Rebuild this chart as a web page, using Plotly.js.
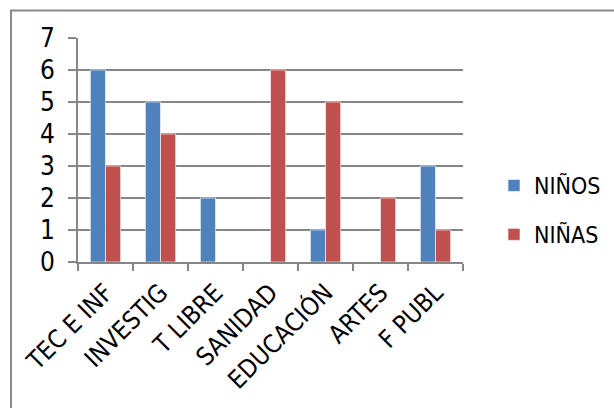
<!DOCTYPE html>
<html>
<head>
<meta charset="utf-8">
<script src="https://cdn.plot.ly/plotly-3.0.1.min.js"></script>
<style>
html,body{margin:0;padding:0;background:#fff;}
#chart{width:614px;height:408px;}
</style>
</head>
<body>
<div id="chart"></div>
<script>
const categories = ["TEC E INF", "INVESTIG", "T LIBRE", "SANIDAD", "EDUCACIÓN", "ARTES", "F PUBL"];
const ninos = [6, 5, 2, 0, 1, 0, 3];
const ninas = [3, 4, 0, 6, 5, 2, 1];
const seriesNames = ["NIÑOS", "NIÑAS"];
const yTicks = [0, 1, 2, 3, 4, 5, 6, 7];

const FONT = "Liberation Sans Narrow, Arial Narrow, DejaVu Sans Condensed, sans-serif";
const GRID = "#868686";

const traces = [
  {type: "bar", name: seriesNames[0], x: categories, y: ninos, legendgroup: "a",
   marker: {color: "#4F81BD", line: {color: "#ffffff", width: 0.6}}},
  {type: "bar", name: seriesNames[1], x: categories, y: ninas, legendgroup: "b",
   marker: {color: "#C0504D", line: {color: "#ffffff", width: 0.6}}}
];

const W = 536; // paper width in px
const layout = {
  width: 614, height: 408,
  margin: {l: 78, r: 0, t: 38, b: 146},
  paper_bgcolor: "#ffffff", plot_bgcolor: "#ffffff",
  font: {family: FONT, size: 25, color: "#000000"},
  barmode: "group", bargap: 0.45, bargroupgap: 0,
  showlegend: true,
  legend: {x: (494 - 78) / W, y: (262 - 210) / 224, xanchor: "left", yanchor: "middle",
           font: {family: FONT, size: 23, color: "#000"},
           traceorder: "grouped", tracegroupgap: 16, bgcolor: "rgba(0,0,0,0)"},
  xaxis: {type: "category", domain: [0, (463 - 78) / W], showgrid: false, zeroline: false,
          showline: true, linecolor: GRID, linewidth: 2,
          ticks: "outside", tickson: "boundaries", ticklen: 7, tickcolor: GRID, tickwidth: 2,
          ticklabelstandoff: 4,
          tickangle: -45, tickfont: {family: FONT, size: 25, color: "#000"}},
  yaxis: {range: [0, 7], tickvals: yTicks, showgrid: true, gridcolor: GRID, gridwidth: 2,
          zeroline: false, showline: true, linecolor: GRID, linewidth: 2,
          ticks: "outside", ticklen: 8, tickcolor: GRID, tickwidth: 2,
          ticklabelstandoff: 8,
          tickfont: {family: FONT, size: 26, color: "#000"}},
  shapes: [{type: "rect", xref: "paper", yref: "paper",
            x0: (11 - 78) / W, x1: (640 - 78) / W,
            y0: (262 - 430) / 224, y1: (262 - 10.5) / 224,
            line: {color: "#8a8a8a", width: 2}, fillcolor: "rgba(0,0,0,0)", layer: "above"}]
};

Plotly.newPlot("chart", traces, layout, {staticPlot: true, displayModeBar: false});
</script>
</body>
</html>
